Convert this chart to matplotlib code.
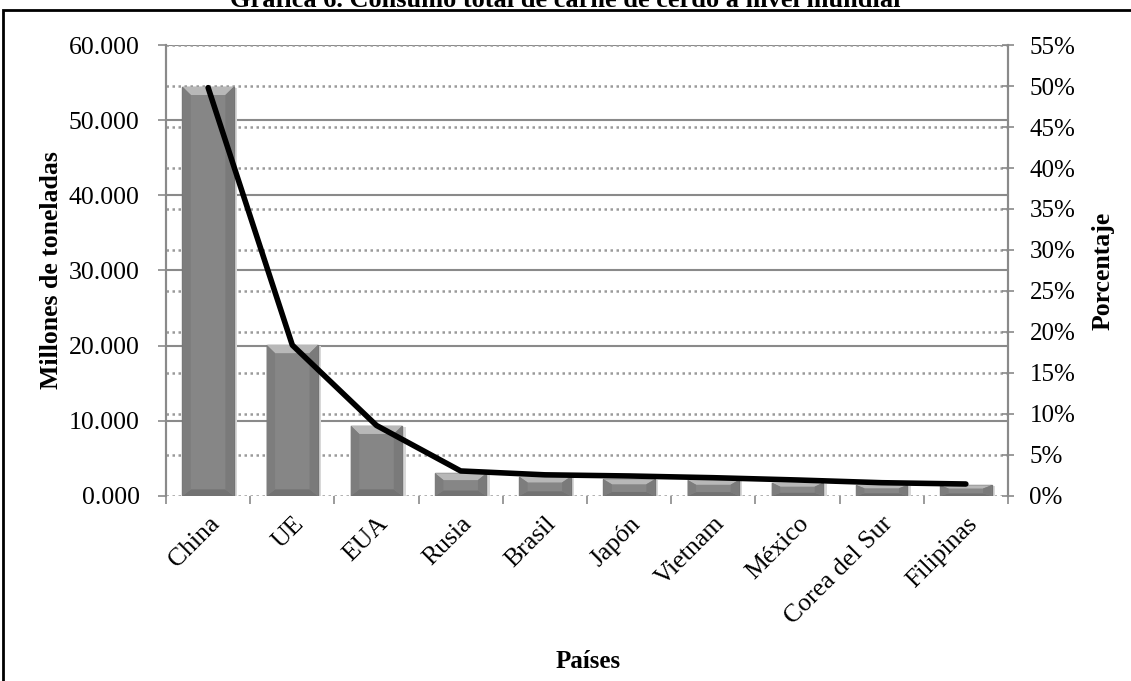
import matplotlib.pyplot as plt
from matplotlib.patches import Polygon, Rectangle
from matplotlib.ticker import FuncFormatter, MultipleLocator
from matplotlib.transforms import ScaledTranslation
import numpy as np

plt.rcParams['font.family'] = ['Liberation Serif', 'DejaVu Serif']

# Consumo de carne de cerdo (millones de toneladas) y porcentaje del total mundial
paises = ['China', 'UE', 'EUA', 'Rusia', 'Brasil', 'Japón', 'Vietnam',
          'México', 'Corea del Sur', 'Filipinas']
consumo = [54.45, 20.1, 9.35, 3.02, 2.57, 2.22, 2.13, 1.77, 1.46, 1.42]
porcentaje = [0.498, 0.184, 0.086, 0.0305, 0.0258, 0.0244, 0.0223, 0.0195, 0.0162, 0.0146]

titulo = 'Gráfica 6. Consumo total de carne de cerdo a nivel mundial'

fig = plt.figure(figsize=(11.31, 6.81), dpi=100)
ax = fig.add_axes([0.1468, 0.2717, 0.7444, 0.6622])
ax2 = ax.twinx()

x = np.arange(len(paises))
ancho = 0.61
gris_rejilla = '#8a8a8a'

ax.set_xlim(-0.5, len(paises) - 0.5)
ax.set_ylim(0, 60)
ax2.set_ylim(0, 0.55)

# rejilla: continua para el eje izquierdo, punteada para el derecho
for v in np.arange(10, 61, 10):
    ax.axhline(v, color=gris_rejilla, lw=1.5, zorder=0)
for p in np.arange(0, 0.551, 0.05):
    ax.axhline(p * 60 / 0.55, color='#9a9a9a', lw=1.8, ls=(0, (1.0, 1.4)), zorder=0.5)

# barras con efecto biselado
ax.bar(x + 0.04, consumo, ancho, bottom=-0.15, color='#d8d8d8', zorder=1)
ax.bar(x, consumo, ancho, color='#868686', edgecolor='#747474', lw=1, zorder=2)
dx = 0.1
for xi, v in zip(x, consumo):
    dy = min(1.1, v * 0.3)
    x0, x1 = xi - ancho / 2, xi + ancho / 2
    ax.add_patch(Polygon([(x0, v), (x1, v), (x1 - dx, v - dy), (x0 + dx, v - dy)],
                         closed=True, facecolor='#b8b8b8', edgecolor='none', zorder=3))
    ax.add_patch(Polygon([(x0, 0), (x1, 0), (x1 - dx, dy * 0.8), (x0 + dx, dy * 0.8)],
                         closed=True, facecolor='#727272', edgecolor='none', zorder=3))
    ax.add_patch(Polygon([(x0, v), (x0 + dx, v - dy), (x0 + dx, dy * 0.8), (x0, 0)],
                         closed=True, facecolor='#7d7d7d', edgecolor='none', zorder=3))
    ax.add_patch(Polygon([(x1, v), (x1 - dx, v - dy), (x1 - dx, dy * 0.8), (x1, 0)],
                         closed=True, facecolor='#7a7a7a', edgecolor='none', zorder=3))

# línea de porcentaje
ax2.plot(x, porcentaje, color='black', lw=4, solid_capstyle='round',
         solid_joinstyle='round', zorder=5)
ax2.set_zorder(ax.get_zorder() + 1)
ax2.patch.set_visible(False)

# ejes y formato
ax.yaxis.set_major_locator(MultipleLocator(10))
ax.yaxis.set_major_formatter(FuncFormatter(lambda v, _: f'{v:.3f}'))
ax2.yaxis.set_major_locator(MultipleLocator(0.05))
ax2.yaxis.set_major_formatter(FuncFormatter(lambda v, _: f'{v * 100:.0f}%'))

ax.set_xticks(x)
ax.set_xticklabels(paises, rotation=45, ha='right', va='top',
                   rotation_mode='anchor', fontsize=18.5)
desplazamiento = ScaledTranslation(12 / 100, 0, fig.dpi_scale_trans)
for etiqueta in ax.get_xticklabels():
    etiqueta.set_transform(etiqueta.get_transform() + desplazamiento)
ax.set_xticks(np.arange(-0.5, len(paises), 1), minor=True)
ax.tick_params(axis='x', which='major', length=0, pad=12)
ax.tick_params(axis='x', which='minor', length=6, width=1.2, color=gris_rejilla,
               direction='out')
ax.tick_params(axis='y', labelsize=18.5, length=6, width=1.2, color=gris_rejilla,
               pad=13)
ax2.tick_params(axis='y', labelsize=18, length=9, width=1.2, color=gris_rejilla,
                direction='inout', pad=11)

for a in (ax, ax2):
    for s in a.spines.values():
        s.set_color(gris_rejilla)
        s.set_linewidth(1.5)
    a.spines['top'].set_visible(False)
ax.spines['bottom'].set_visible(False)
ax2.spines['bottom'].set_visible(False)

ax.set_ylabel('Millones de toneladas', fontsize=18.5, fontweight='bold', labelpad=4)
ax2.set_ylabel('Porcentaje', fontsize=18.5, fontweight='bold', labelpad=12)
fig.text(0.52, 0.028, 'Países', ha='center', va='center', fontsize=18,
         fontweight='bold')

# marco exterior y título
fig.patches.append(Rectangle((0.003, -0.05), 1.1, 1.035, transform=fig.transFigure,
                             fill=False, edgecolor='black', lw=2))
fig.text(0.5, 0.999, titulo, ha='center', va='center', fontsize=19,
         fontweight='bold')

fig.savefig('out.png', dpi=100)
